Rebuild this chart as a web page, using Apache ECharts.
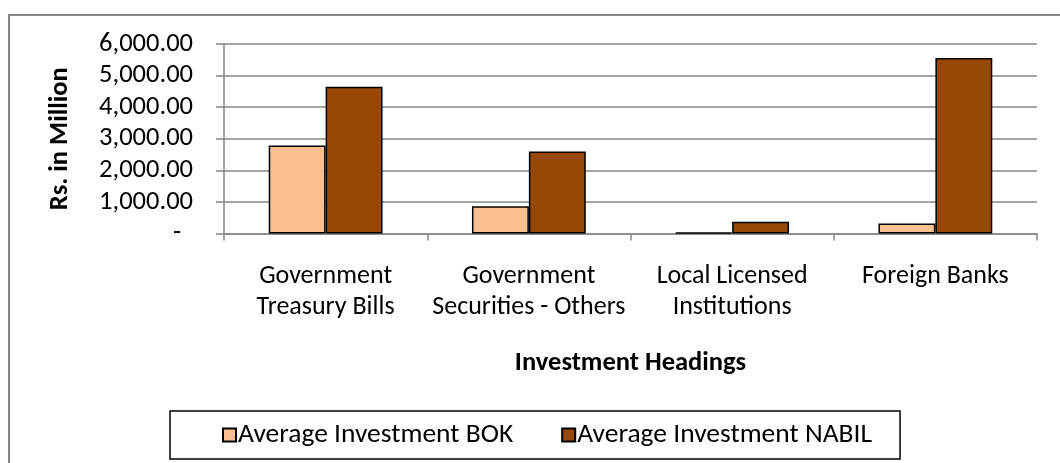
<!DOCTYPE html>
<html>
<head>
<meta charset="utf-8">
<script src="https://cdn.jsdelivr.net/npm/echarts@6/dist/echarts.min.js"></script>
<style>
  html, body { margin: 0; padding: 0; background: #fff; }
  #chart { width: 1060px; height: 463px; }
</style>
</head>
<body>
<div id="chart"></div>
<script>
// investment headings on the x axis
const categories = [
  'Government\nTreasury Bills',
  'Government\nSecurities - Others',
  'Local Licensed\nInstitutions',
  'Foreign Banks'
]
const seriesNames = ['Average Investment BOK', 'Average Investment NABIL']
const bokValues = [2790, 860, 30, 320]
const nabilValues = [4650, 2600, 370, 5560]
const yTicks = { min: 0, max: 6000, interval: 1000 }

const textFont = 'Carlito, Calibri, "Open Sans", sans-serif'
const gridGray = '#878787'

const chart = echarts.init(document.getElementById('chart'))

const option = {
  backgroundColor: '#fff',
  animation: false,
  textStyle: { fontFamily: textFont, color: '#000' },
  graphic: [{
    // outer chart-area frame (cropped at right and bottom)
    type: 'rect',
    shape: { x: 9, y: 15, width: 1100, height: 500 },
    style: { fill: 'none', stroke: gridGray, lineWidth: 2 },
    silent: true
  }],
  grid: {
    left: 224,
    right: 23,
    top: 44,
    bottom: 229.5
  },
  legend: {
    data: seriesNames,
    left: 170,
    top: 411,
    padding: [10, 28, 10, 52],
    itemGap: 48,
    itemWidth: 13,
    itemHeight: 13,
    icon: 'rect',
    borderColor: '#000',
    borderWidth: 1.5,
    textStyle: { fontFamily: textFont, fontSize: 27.5, color: '#000', padding: [0, 0, 0, -3] }
  },
  xAxis: {
    type: 'category',
    data: categories,
    name: 'Investment Headings',
    nameLocation: 'middle',
    nameGap: 116,
    nameTextStyle: { fontFamily: textFont, fontSize: 26.5, fontWeight: 'bold', color: '#000' },
    axisLine: { lineStyle: { color: gridGray, width: 1.5 } },
    axisTick: { show: true, length: 7, lineStyle: { color: gridGray, width: 1.5 } },
    axisLabel: {
      interval: 0,
      margin: 27,
      fontSize: 26,
      lineHeight: 31.5,
      color: '#000',
      fontFamily: textFont
    }
  },
  yAxis: {
    type: 'value',
    min: yTicks.min,
    max: yTicks.max,
    interval: yTicks.interval,
    name: 'Rs. in Million',
    nameLocation: 'middle',
    nameGap: 150,
    nameRotate: 90,
    nameTextStyle: { fontFamily: textFont, fontSize: 26.5, fontWeight: 'bold', color: '#000' },
    axisLine: { show: true, lineStyle: { color: gridGray, width: 1.5 } },
    axisTick: { show: true, length: 8, lineStyle: { color: gridGray, width: 1.5 } },
    splitLine: { lineStyle: { color: gridGray, width: 1.5 } },
    axisLabel: {
      margin: 31,
      fontSize: 26.5,
      color: '#000',
      fontFamily: textFont,
      formatter: function (v) {
        if (v === 0) return '-  '
        return v.toLocaleString('en-US', { minimumFractionDigits: 2, maximumFractionDigits: 2 })
      }
    }
  },
  series: [
    {
      name: seriesNames[0],
      type: 'bar',
      data: bokValues,
      barGap: '0%',
      barCategoryGap: '44%',
      itemStyle: { color: '#FAC090', borderColor: '#000', borderWidth: 1.5 }
    },
    {
      name: seriesNames[1],
      type: 'bar',
      data: nabilValues,
      itemStyle: { color: '#974706', borderColor: '#000', borderWidth: 1.5 }
    }
  ]
}

chart.setOption(option)
</script>
</body>
</html>
